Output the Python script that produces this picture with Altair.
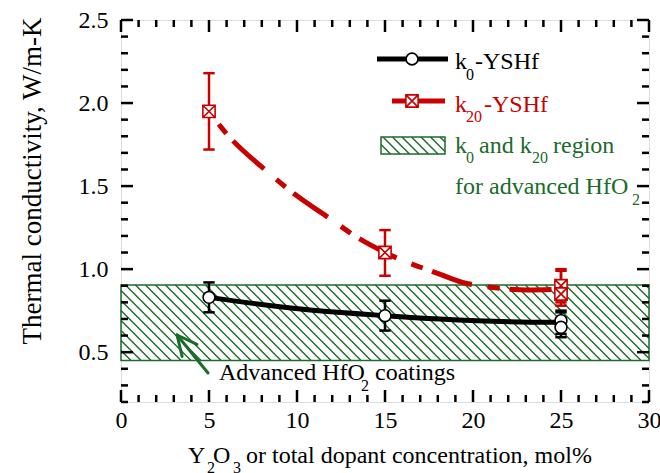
import altair as alt
import pandas as pd
import numpy as np

# ---------------- data ----------------
k0_x = [5, 15, 25, 25]
k0_y = [0.83, 0.72, 0.69, 0.65]
k0_lo = [0.74, 0.63, 0.61, 0.59]
k0_hi = [0.92, 0.81, 0.75, 0.74]

k20_x = [5, 15, 25, 25]
k20_y = [1.95, 1.10, 0.90, 0.85]
k20_lo = [1.72, 0.96, 0.80, 0.78]
k20_hi = [2.18, 1.235, 1.00, 0.99]

curve_k0_x = [5, 10.2, 15, 18.1, 24.4, 25]
curve_k0_y = [0.83, 0.76, 0.72, 0.70, 0.68, 0.68]
curve_k20_x = [5, 5.8, 8.5, 9.4, 12.2, 13.0, 15, 18.1, 19.4, 21.1, 23.1, 25]
curve_k20_y = [1.95, 1.84, 1.57, 1.49, 1.28, 1.22, 1.10, 0.97, 0.92, 0.89, 0.875, 0.88]

region_lo, region_hi = 0.45, 0.905

x_major = [0, 5, 10, 15, 20, 25, 30]
y_major = [0.5, 1.0, 1.5, 2.0, 2.5]

# ---------------- layout ----------------
W, H = 528, 382
XMIN, XMAX = 0, 30
YMIN, YMAX = 0.2, 2.5
FONT = "Liberation Serif, Times New Roman, serif"
RED = "#c80000"
GREEN = "#1b6b2b"


def px2x(p):
    return XMIN + p / W * (XMAX - XMIN)


def py2y(p):
    return YMAX - p / H * (YMAX - YMIN)


def y2py(v):
    return (YMAX - v) / (YMAX - YMIN) * H


xs = alt.Scale(domain=[XMIN, XMAX], nice=False, zero=False)
ys = alt.Scale(domain=[YMIN, YMAX], nice=False, zero=False)


def hatch(x0p, x1p, topp, botp, step=10.0, k=1.0):
    segs = []
    h = botp - topp
    c = x0p - h * k
    while c < x1p:
        sx, sy = c, topp
        ex, ey = c + h * k, botp
        if sx < x0p:
            sy = topp + (x0p - c) / k
            sx = x0p
        if ex > x1p:
            ey = topp + (x1p - c) / k
            ex = x1p
        if ex > sx:
            segs.append(dict(x=px2x(sx), y=py2y(sy), x2=px2x(ex), y2=py2y(ey)))
        c += step
    return segs


hatch_main = pd.DataFrame(hatch(0, W, y2py(region_hi), y2py(region_lo)))
hatch_leg = pd.DataFrame(hatch(260, 324, 117, 134, step=9.5))

x_axis = alt.Axis(values=x_major, domain=False, ticks=False, grid=False,
                  labelFont=FONT, labelFontSize=24, labelColor="black",
                  labelPadding=6, labelFlush=False, title=None)
y_axis = alt.Axis(values=y_major, format=".1f", domain=False, ticks=False,
                  grid=False, labelFont=FONT, labelFontSize=24,
                  labelColor="black", labelPadding=13, title=None)
X = alt.X("x:Q", scale=xs, axis=x_axis, title=None)
Y = alt.Y("y:Q", scale=ys, axis=y_axis, title=None)

layers = []

# hatch
layers.append(alt.Chart(hatch_main).mark_rule(color=GREEN, strokeWidth=1.4).encode(
    x=X, y=Y, x2="x2:Q", y2="y2:Q"))
layers.append(alt.Chart(pd.DataFrame({"x": [XMIN], "x2": [XMAX], "y": [region_lo], "y2": [region_hi]}))
              .mark_rect(fill=None, stroke=GREEN, strokeWidth=1.5).encode(x=X, x2="x2:Q", y=Y, y2="y2:Q"))

# curves
c20 = pd.DataFrame({"x": curve_k20_x, "y": curve_k20_y})
layers.append(alt.Chart(c20).mark_line(color=RED, strokeWidth=5, interpolate="monotone",
                                       strokeDash=[12, 10, 42, 16], strokeDashOffset=64,
                                       strokeCap="butt").encode(x=X, y=Y))
c0 = pd.DataFrame({"x": curve_k0_x, "y": curve_k0_y})
layers.append(alt.Chart(c0).mark_line(color="black", strokeWidth=5, interpolate="monotone").encode(x=X, y=Y))

# error bars
e20 = pd.DataFrame({"x": k20_x, "y": k20_lo, "y2": k20_hi})
layers.append(alt.Chart(e20).mark_rule(color=RED, strokeWidth=2.5).encode(x=X, y=Y, y2="y2:Q"))
cap20 = pd.DataFrame({"x": k20_x * 2, "y": k20_lo + k20_hi})
layers.append(alt.Chart(cap20).mark_point(shape="M-1,0L1,0", size=130, color=RED, strokeWidth=2.5,
                                          opacity=1).encode(x=X, y=Y))
e0 = pd.DataFrame({"x": k0_x, "y": k0_lo, "y2": k0_hi})
layers.append(alt.Chart(e0).mark_rule(color="black", strokeWidth=2.5).encode(x=X, y=Y, y2="y2:Q"))
cap0 = pd.DataFrame({"x": k0_x * 2, "y": k0_lo + k0_hi})
layers.append(alt.Chart(cap0).mark_point(shape="M-1,0L1,0", size=130, color="black", strokeWidth=2.5,
                                         opacity=1).encode(x=X, y=Y))

# markers
SQX = "M-1,-1H1V1H-1ZM-1,-1L1,1M-1,1L1,-1"
p20 = pd.DataFrame({"x": k20_x, "y": k20_y})
layers.append(alt.Chart(p20).mark_point(shape=SQX, size=150, filled=True, fill="white", stroke=RED,
                                        strokeWidth=1.6, opacity=1, fillOpacity=1).encode(x=X, y=Y))
p0 = pd.DataFrame({"x": k0_x, "y": k0_y})
layers.append(alt.Chart(p0).mark_point(shape="circle", size=140, filled=True, fill="white", stroke="black",
                                       strokeWidth=1.6, opacity=1, fillOpacity=1).encode(x=X, y=Y))

# inward ticks on all four sides
x_all = list(range(0, 31))
y_all = [round(0.2 + 0.1 * i, 1) for i in range(24)]
MAJ, MIN_ = 12, 7
tick_rows = []
for v in x_all:
    L = MAJ if v % 5 == 0 else MIN_
    tick_rows.append(dict(x=v, x2=v, y=YMIN, y2=py2y(H - L)))
    tick_rows.append(dict(x=v, x2=v, y=YMAX, y2=py2y(L)))
for v in y_all:
    L = MAJ if abs(v * 2 - round(v * 2)) < 1e-6 else MIN_
    tick_rows.append(dict(x=XMIN, x2=px2x(L), y=v, y2=v))
    tick_rows.append(dict(x=XMAX, x2=px2x(W - L), y=v, y2=v))
layers.append(alt.Chart(pd.DataFrame(tick_rows)).mark_rule(color="black", strokeWidth=2.5).encode(
    x=X, x2="x2:Q", y=Y, y2="y2:Q"))

# legend lines & symbols
leg_lines = pd.DataFrame([
    dict(x=px2x(256), x2=px2x(327), y=py2y(39), y2=py2y(39), c="black"),
    dict(x=px2x(271), x2=px2x(324), y=py2y(81), y2=py2y(81), c=RED),
])
layers.append(alt.Chart(leg_lines).mark_rule(strokeWidth=5).encode(
    x=X, x2="x2:Q", y=Y, y2="y2:Q", color=alt.Color("c:N", scale=None)))
layers.append(alt.Chart(pd.DataFrame({"x": [px2x(291)], "y": [py2y(81)]})).mark_point(
    shape=SQX, size=150, filled=True, fill="white", stroke=RED, strokeWidth=1.6, opacity=1).encode(x=X, y=Y))
layers.append(alt.Chart(pd.DataFrame({"x": [px2x(291)], "y": [py2y(39)]})).mark_point(
    shape="circle", size=140, filled=True, fill="white", stroke="black", strokeWidth=1.6, opacity=1).encode(x=X, y=Y))
layers.append(alt.Chart(hatch_leg).mark_rule(color=GREEN, strokeWidth=1.4).encode(
    x=X, y=Y, x2="x2:Q", y2="y2:Q"))
layers.append(alt.Chart(pd.DataFrame({"x": [px2x(260)], "x2": [px2x(324)], "y": [py2y(117)], "y2": [py2y(134)]}))
              .mark_rect(fill=None, stroke=GREEN, strokeWidth=1.5).encode(x=X, x2="x2:Q", y=Y, y2="y2:Q"))

# arrow
tip = np.array([56.0, 315.0])
tail = np.array([87.0, 353.0])
d = (tail - tip) / np.linalg.norm(tail - tip)
arr = [dict(x=px2x(tail[0]), y=py2y(tail[1]), x2=px2x(tip[0]), y2=py2y(tip[1]))]
for ang in (0.45, -0.45):
    rot = np.array([[np.cos(ang), -np.sin(ang)], [np.sin(ang), np.cos(ang)]])
    e = tip + rot @ d * 22
    arr.append(dict(x=px2x(tip[0]), y=py2y(tip[1]), x2=px2x(e[0]), y2=py2y(e[1])))
layers.append(alt.Chart(pd.DataFrame(arr)).mark_rule(color=GREEN, strokeWidth=3, strokeCap="round").encode(
    x=X, y=Y, x2="x2:Q", y2="y2:Q"))

# texts (pieces for subscripts)
BIG, SUB = 24, 16
pieces = [
    ("k", 334, 49, BIG, "black"), ("0", 345, 60, SUB, "black"), ("-YSHf", 354, 49, BIG, "black"),
    ("k", 334, 92, BIG, RED), ("20", 345, 102, SUB, RED), ("-YSHf", 363, 92, BIG, RED),
    ("k", 334, 133, BIG, GREEN), ("0", 345, 143, SUB, GREEN), ("and k", 358, 133, BIG, GREEN),
    ("20", 411, 143, SUB, GREEN), ("region", 432, 133, BIG, GREEN),
    ("for advanced HfO", 334, 174, BIG, GREEN), ("2", 511, 185, SUB, GREEN),
    ("Advanced HfO", 98, 360, BIG, "black"), ("2", 240, 371, SUB, "black"), ("coatings", 254, 360, BIG, "black"),
    ("Y", 67, 443, BIG, "black"), ("2", 86, 453, SUB, "black"), ("O", 92, 443, BIG, "black"),
    ("3", 112, 453, SUB, "black"), ("or total dopant concentration, mol%", 125, 443, BIG, "black"),
]
tdf = pd.DataFrame([dict(t=t, x=px2x(a), y=py2y(b), fs=s, c=c) for t, a, b, s, c in pieces])
layers.append(alt.Chart(tdf).mark_text(align="left", baseline="alphabetic", font=FONT).encode(
    x=X, y=Y, text="t:N", size=alt.Size("fs:Q", scale=None), color=alt.Color("c:N", scale=None)))

ytitle = pd.DataFrame({"x": [px2x(-88)], "y": [py2y(161)], "t": ["Thermal conductivity, W/m-K"]})
layers.append(alt.Chart(ytitle).mark_text(angle=270, align="center", baseline="middle", font=FONT,
                                          fontSize=27, color="black").encode(x=X, y=Y, text="t:N"))

chart = alt.layer(*layers).properties(
    width=W, height=H,
    autosize=alt.AutoSizeParams(type="none"),
    padding={"left": 121, "top": 20, "right": 11, "bottom": 71},
).configure_view(stroke="black", strokeWidth=3).configure(background="white", font=FONT)

chart.save("out.html", embed_options={"renderer": "svg", "actions": False})
